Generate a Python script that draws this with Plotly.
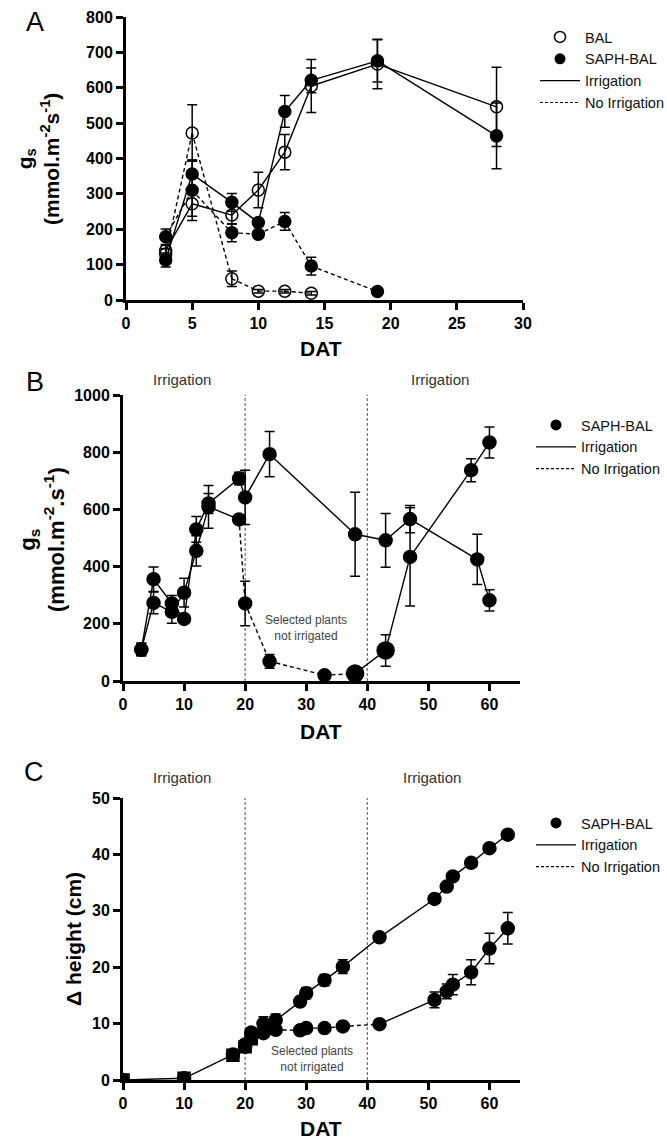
import plotly.graph_objects as go

W, H = 667, 1140
FONT = "Liberation Sans, Arial, sans-serif"

# ---------------- Panel A data ----------------
A_irr_days = [3, 5, 8, 10, 12, 14, 19, 28]
A_bal_irr = [140, 272, 240, 311, 418, 605, 667, 546]
A_bal_irr_err = [15, 35, 25, 50, 50, 75, 70, 112]
A_saph_irr = [113, 356, 276, 219, 533, 621, 676, 464]
A_saph_irr_err = [20, 40, 25, 10, 45, 35, 60, 93]

A_bal_noirr_days = [3, 5, 8, 10, 12, 14]
A_bal_noirr = [130, 472, 60, 25, 25, 19]
A_bal_noirr_err = [15, 80, 22, 5, 5, 5]

A_saph_noirr_days = [3, 5, 8, 10, 12, 14, 19]
A_saph_noirr = [179, 310, 190, 186, 222, 96, 24]
A_saph_noirr_err = [22, 85, 25, 10, 25, 25, 5]

# ---------------- Panel B data ----------------
B1_days = [3, 5, 8, 10, 12, 14, 19, 20, 24, 38, 43, 47, 58, 60]
B1_vals = [110, 356, 271, 217, 530, 621, 708, 642, 793, 513, 492, 566, 425, 282]
B1_err = [22, 43, 28, 10, 45, 35, 22, 95, 79, 147, 94, 48, 88, 37]

B2_days = [3, 5, 8, 10, 12, 14, 19, 20, 24, 33, 38, 43, 47, 57, 60]
B2_vals = [110, 273, 242, 309, 455, 609, 565, 271, 69, 20, 26, 107, 434, 737, 834]
B2_err = [22, 38, 40, 50, 53, 75, 10, 78, 24, 5, 5, 55, 172, 40, 54]
B2_dry = (19, 38)

# ---------------- Panel C data ----------------
C1_days = [0, 10, 18, 20, 21, 23, 25, 29, 30, 33, 36, 42, 51, 53, 54, 57, 60, 63]
C1_vals = [0, 0.3, 4.5, 6.3, 8.4, 10.0, 10.6, 13.9, 15.4, 17.7, 20.1, 25.3,
           32.1, 34.3, 36.1, 38.5, 41.1, 43.5]
C1_err = [0.3, 0.4, 0.6, 0.8, 0.8, 1.2, 1.1, 0.8, 1.0, 1.0, 1.2, 0.6,
          0.6, 0.6, 0.6, 0.6, 0.6, 0.6]

C2_days = [20, 21, 23, 25, 29, 30, 33, 36, 42, 51, 53, 54, 57, 60, 63]
C2_vals = [5.9, 7.4, 8.3, 8.9, 8.8, 9.2, 9.2, 9.5, 9.9, 14.2, 15.7, 16.9, 19.1, 23.3, 26.9]
C2_err = [0.8, 0.8, 0.6, 0.6, 0.4, 0.4, 0.4, 0.4, 0.4, 1.4, 1.3, 1.8, 2.2, 2.7, 2.8]
C2_dry = (21, 42)

C_sq_days = [0, 10, 18, 20, 21]
C_sq_vals = [0, 0.3, 4.4, 5.9, 7.3]
C_sq_err = [0.3, 0.4, 0.6, 0.8, 0.8]

irrigation_breaks = [20, 40]

fig = go.Figure()

LW = 1.4
DASH = "4px,3px"


def add_lines(days, vals, xa, ya, dry=None, all_dashed=False):
    """Draw connecting segments; dashed within the dry (no irrigation) window."""
    n = len(days)
    for i in range(n - 1):
        d0, d1 = days[i], days[i + 1]
        dashed = all_dashed or (dry is not None and d0 >= dry[0] and d1 <= dry[1])
        fig.add_trace(go.Scatter(
            x=[d0, d1], y=[vals[i], vals[i + 1]], mode="lines",
            line=dict(color="black", width=LW, dash=DASH if dashed else "solid"),
            xaxis=xa, yaxis=ya, showlegend=False, hoverinfo="skip"))


def add_points(days, vals, errs, xa, ya, symbol="circle", size=12, lw=1.5):
    fig.add_trace(go.Scatter(
        x=days, y=vals, mode="markers",
        marker=dict(symbol=symbol, size=size, color="black", opacity=1,
                    line=dict(color="black", width=lw)),
        error_y=dict(type="data", array=errs, color="black", thickness=1.5, width=5),
        xaxis=xa, yaxis=ya, showlegend=False))


# Panel A
add_lines(A_irr_days, A_bal_irr, "x", "y")
add_lines(A_irr_days, A_saph_irr, "x", "y")
add_lines(A_bal_noirr_days, A_bal_noirr, "x", "y", all_dashed=True)
add_lines(A_saph_noirr_days, A_saph_noirr, "x", "y", all_dashed=True)
add_points(A_irr_days, A_bal_irr, A_bal_irr_err, "x", "y", symbol="circle-open", size=12)
add_points(A_bal_noirr_days, A_bal_noirr, A_bal_noirr_err, "x", "y", symbol="circle-open", size=12)
add_points(A_irr_days, A_saph_irr, A_saph_irr_err, "x", "y", size=12)
add_points(A_saph_noirr_days, A_saph_noirr, A_saph_noirr_err, "x", "y", size=12)

# Panel B
add_lines(B1_days, B1_vals, "x2", "y2")
add_lines(B2_days, B2_vals, "x2", "y2", dry=B2_dry)
add_points(B1_days, B1_vals, B1_err, "x2", "y2", size=13)
add_points(B2_days, B2_vals, B2_err, "x2", "y2",
           size=[17 if d in (38, 43) else 13 for d in B2_days])

# Panel C
add_lines(C1_days, C1_vals, "x3", "y3")
add_lines(C2_days, C2_vals, "x3", "y3", dry=C2_dry)
add_points(C1_days, C1_vals, C1_err, "x3", "y3", size=13)
add_points(C2_days, C2_vals, C2_err, "x3", "y3", size=13)
add_points(C_sq_days, C_sq_vals, C_sq_err, "x3", "y3", symbol="square", size=12)


# Legend entries
def legend_entries(legend, with_bal):
    items = []
    if with_bal:
        items.append(("BAL", dict(mode="markers", marker=dict(symbol="circle-open", size=11, color="black", line=dict(width=1.5)))))
    items.append(("SAPH-BAL", dict(mode="markers", marker=dict(symbol="circle", size=11, color="black"))))
    items.append(("Irrigation", dict(mode="lines", line=dict(color="black", width=1.2))))
    items.append(("No Irrigation", dict(mode="lines", line=dict(color="black", width=1.2, dash="3px,2px"))))
    for name, kw in items:
        fig.add_trace(go.Scatter(x=[None], y=[None], name=name, legend=legend,
                                 xaxis="x", yaxis="y", showlegend=True, **kw))


legend_entries("legend", True)
legend_entries("legend2", False)
legend_entries("legend3", False)


def px_x(p):
    return p / W


def px_y(p):
    return 1 - p / H


AXLINE = dict(showline=True, linecolor="black", linewidth=3, showgrid=False,
              zeroline=False, ticklen=7, tickwidth=2.5, tickcolor="black")
TICKFONT = dict(family=FONT, size=16, color="black", weight="bold")

dom_A = dict(x=[px_x(126), px_x(523)], y=[px_y(300), px_y(17)])
dom_B = dict(x=[px_x(123), px_x(520)], y=[px_y(681), px_y(395)])
dom_C = dict(x=[px_x(123), px_x(520)], y=[px_y(1080), px_y(798)])

layout = dict(
    width=W, height=H, margin=dict(l=0, r=0, t=0, b=0, autoexpand=False),
    paper_bgcolor="white", plot_bgcolor="white",
    font=dict(family=FONT, color="black"),
    showlegend=True,
    xaxis=dict(domain=dom_A["x"], anchor="y", range=[0, 30], dtick=5, ticks="outside",
               tickfont=TICKFONT, **AXLINE),
    yaxis=dict(domain=dom_A["y"], anchor="x", range=[0, 800], dtick=100, ticks="outside",
               tickfont=TICKFONT, **AXLINE),
    xaxis2=dict(domain=dom_B["x"], anchor="y2", range=[0, 65], tickvals=[0, 10, 20, 30, 40, 50, 60],
                ticks="outside", tickfont=TICKFONT, **AXLINE),
    yaxis2=dict(domain=dom_B["y"], anchor="x2", range=[0, 1000], dtick=200, ticks="outside",
                tickfont=TICKFONT, **AXLINE),
    xaxis3=dict(domain=dom_C["x"], anchor="y3", range=[0, 65], tickvals=[0, 10, 20, 30, 40, 50, 60],
                ticks="outside", tickfont=TICKFONT, **AXLINE),
    yaxis3=dict(domain=dom_C["y"], anchor="x3", range=[0, 50], dtick=10, ticks="outside",
                tickfont=TICKFONT, **AXLINE),
    # mirrored frame with inward ticks
    xaxis4=dict(overlaying="x", anchor="y", side="top", range=[0, 30], dtick=5, ticks="inside",
                showticklabels=False, **AXLINE),
    yaxis4=dict(overlaying="y", anchor="x", side="right", range=[0, 800], dtick=100, ticks="inside",
                showticklabels=False, **AXLINE),
    xaxis5=dict(overlaying="x2", anchor="y2", side="top", range=[0, 65], tickvals=[10, 20, 30, 40, 50, 60],
                ticks="inside", showticklabels=False, **AXLINE),
    yaxis5=dict(overlaying="y2", anchor="x2", side="right", range=[0, 1000], dtick=200, ticks="inside",
                showticklabels=False, **AXLINE),
    xaxis6=dict(overlaying="x3", anchor="y3", side="top", range=[0, 65], tickvals=[10, 20, 30, 40, 50, 60],
                ticks="inside", showticklabels=False, **AXLINE),
    yaxis6=dict(overlaying="y3", anchor="x3", side="right", range=[0, 50], dtick=10, ticks="inside",
                showticklabels=False, **AXLINE),
)

LEGFONT = dict(family=FONT, size=14.5, color="#111")
LEG = dict(xanchor="left", yanchor="top", font=LEGFONT, bgcolor="rgba(0,0,0,0)",
           tracegroupgap=0, itemwidth=40, borderwidth=0)
layout["legend"] = dict(LEG, x=px_x(535), y=px_y(21))
layout["legend2"] = dict(LEG, x=px_x(531), y=px_y(409))
layout["legend3"] = dict(LEG, x=px_x(531), y=px_y(807))

fig.update_layout(**layout)

# Irrigation break lines in B and C
for xa, ya in (("x2", "y2"), ("x3", "y3")):
    for d in irrigation_breaks:
        fig.add_shape(type="line", xref=xa, yref=f"{ya} domain", x0=d, x1=d, y0=0, y1=1,
                      line=dict(color="#777", width=1.3, dash="3px,2px"), layer="below")

TITLEFONT = dict(family=FONT, size=21, color="black", weight="bold")
ann = []
# y titles
ann.append(dict(text="g<sub>s</sub><br>(mmol.m<sup>-2</sup>s<sup>-1</sup>)", x=px_x(38), y=px_y(159),
                textangle=-90, font=TITLEFONT))
ann.append(dict(text="g<sub>s</sub><br>(mmol.m<sup>-2</sup>.s<sup>-1</sup>)", x=px_x(42), y=px_y(540),
                textangle=-90, font=dict(TITLEFONT, size=22)))
ann.append(dict(text="Δ height (cm)", x=px_x(73), y=px_y(939), textangle=-90, font=TITLEFONT))
# x titles
for yy in (349, 731, 1128):
    ann.append(dict(text="DAT", x=px_x(321), y=px_y(yy), font=TITLEFONT))
# panel letters
for letter, xx, yy in (("A", 35, 22), ("B", 35, 382), ("C", 34, 772)):
    ann.append(dict(text=letter, x=px_x(xx), y=px_y(yy), font=dict(family=FONT, size=27, color="black")))
# Irrigation labels
for xx, yy in ((182, 379), (440, 379), (182, 777), (432, 777)):
    ann.append(dict(text="Irrigation", x=px_x(xx), y=px_y(yy), font=dict(family=FONT, size=15, color="#333")))
# Selected plants
for xx, yy in ((306, 628), (312, 1059)):
    ann.append(dict(text="Selected plants<br>not irrigated", x=px_x(xx), y=px_y(yy),
                    font=dict(family=FONT, size=12, color="#444")))

for a in ann:
    a.update(xref="paper", yref="paper", showarrow=False, xanchor="center", yanchor="middle")
fig.update_layout(annotations=ann)

fig.write_html("out.html")
